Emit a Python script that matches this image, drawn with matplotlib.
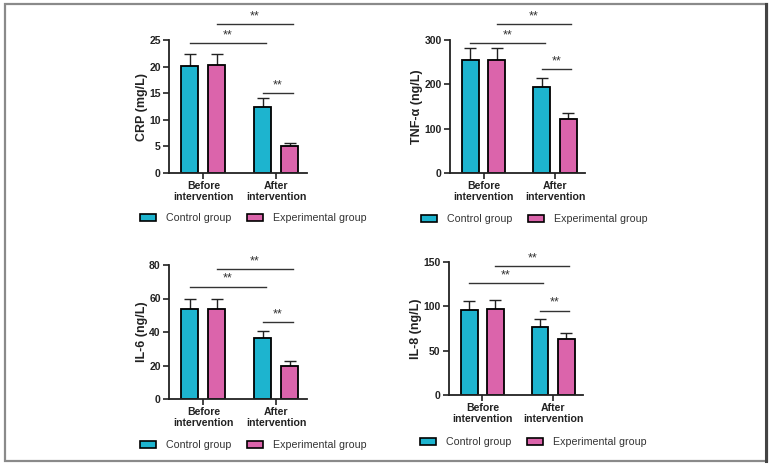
import matplotlib
matplotlib.use("Agg")
import matplotlib.pyplot as plt
import numpy as np
from matplotlib.patches import Rectangle, Patch

plt.rcParams['font.family'] = ['Liberation Sans', 'DejaVu Sans']

groups = ["Before\nintervention", "After\nintervention"]
series = ["Control group", "Experimental group"]
colors = ["#1db4cf", "#db64ab"]

# means and (upper) sd for each panel: [control, experimental] x [before, after]
crp_mean = [[20.2, 12.4], [20.3, 5.0]]
crp_err = [[2.1, 1.7], [2.1, 0.6]]
tnf_mean = [[255, 194], [255, 122]]
tnf_err = [[27, 21], [27, 13]]
il6_mean = [[54, 36.5], [54, 20]]
il6_err = [[6, 3.8], [6, 2.8]]
il8_mean = [[96, 77], [97, 63]]
il8_err = [[10, 9], [10, 7]]

labels = ["CRP (mg/L)", "TNF-α (ng/L)", "IL-6 (ng/L)", "IL-8 (ng/L)"]
ylims = [25, 300, 80, 150]
ysteps = [5, 100, 20, 50]
# bracket heights: before-ctrl->after-ctrl, before-exp->after-exp, after-ctrl->after-exp
brackets = [[24.4, 28.0, 15.0], [293, 336, 234], [67, 77.6, 46], [126, 145.5, 95]]
means = [crp_mean, tnf_mean, il6_mean, il8_mean]
errs = [crp_err, tnf_err, il6_err, il8_err]

W, H = 772, 466
fig = plt.figure(figsize=(W / 100, H / 100), dpi=100)

# axes boxes in pixels: left, right, top, bottom
boxes = [(169, 307, 40, 173), (450, 585, 40, 173), (169, 307, 265, 399), (449, 583, 262, 395)]
legend_y = [218, 219, 445, 442]

# outer frame
fig.add_artist(Rectangle((5 / W, 1 - 461 / H), 762 / W, 457 / H, transform=fig.transFigure,
                         fill=False, edgecolor="#8a8a8a", lw=1.6))
fig.add_artist(plt.Line2D([766 / W, 766 / W], [1 - 461 / H, 1 - 4 / H], transform=fig.transFigure,
                          color="#444444", lw=2.2))

x = np.arange(len(groups))
bw = 0.235
off = 0.185

for i in range(4):
    l, r, t, b = boxes[i]
    ax = fig.add_axes([l / W, 1 - b / H, (r - l) / W, (b - t) / H])
    m = means[i]
    e = errs[i]
    xs = []
    for s in range(2):
        pos = x + (-off if s == 0 else off)
        xs.append(pos)
        ax.bar(pos, m[s], bw, color=colors[s], edgecolor="black", linewidth=1.3, zorder=2)
        ax.errorbar(pos, m[s], yerr=[[0, 0], e[s]], fmt="none", ecolor="#222222",
                    elinewidth=1.0, capsize=4, capthick=1.0, zorder=1)
    ax.set_xlim(-0.47, 1.42)
    ax.set_ylim(0, ylims[i])
    ax.set_yticks(np.arange(0, ylims[i] + 0.001, ysteps[i]))
    ax.set_xticks(x)
    ax.set_xticklabels(groups, fontsize=7.6, fontweight="bold", color="#222222", linespacing=1.05)
    ax.set_ylabel(labels[i], fontsize=9, fontweight="bold", color="#222222", labelpad=1)
    for lab in ax.get_yticklabels():
        lab.set_fontweight("bold")
        lab.set_fontsize(7.5)
        lab.set_color("#222222")
    ax.tick_params(axis="both", direction="out", length=4, width=1.2, color="#222222", pad=2)
    for sp in ["top", "right"]:
        ax.spines[sp].set_visible(False)
    for sp in ["left", "bottom"]:
        ax.spines[sp].set_linewidth(1.3)
        ax.spines[sp].set_color("#222222")

    # significance brackets
    pairs = [(xs[0][0], xs[0][1]), (xs[1][0], xs[1][1]), (xs[0][1], xs[1][1])]
    for (x0, x1), h in zip(pairs, brackets[i]):
        ax.plot([x0, x1 + 0.04], [h, h], color="#333333", lw=1.0, clip_on=False)
        ax.text((x0 + x1) / 2 + 0.02, h + ylims[i] * 0.015, "**", ha="center", va="bottom",
                fontsize=9, color="#333333", clip_on=False)

    handles = [Patch(facecolor=colors[s], edgecolor="black", linewidth=1.2) for s in range(2)]
    leg = fig.legend(handles, series, loc="center left",
                     bbox_to_anchor=((l - 33) / W, 1 - legend_y[i] / H),
                     ncol=2, frameon=False, fontsize=7.7, handlelength=1.5, handleheight=0.6,
                     columnspacing=1.5, handletextpad=0.9, borderaxespad=0)
    for txt in leg.get_texts():
        txt.set_color("#333333")

fig.savefig("out.png", dpi=100)
